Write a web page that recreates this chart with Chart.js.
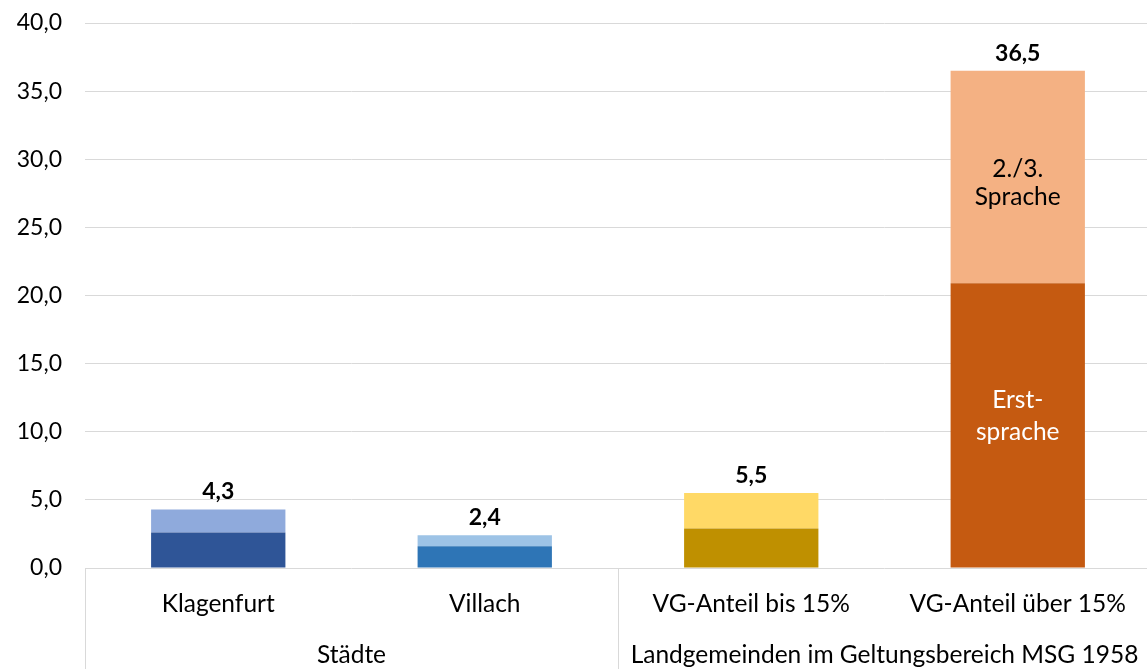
<!DOCTYPE html>
<html>
<head>
<meta charset="utf-8">
<script src="https://cdn.jsdelivr.net/npm/chart.js@4/dist/chart.umd.min.js"></script>
<style>
  html, body { margin: 0; padding: 0; background: #fff; overflow: hidden; }
  #wrap { width: 1147px; height: 669px; overflow: hidden; position: relative; }
  canvas { display: block; }
</style>
</head>
<body>
<div id="wrap"><canvas id="c" width="1151" height="669"></canvas></div>
<script>
const categories = ["Klagenfurt", "Villach", "VG-Anteil bis 15%", "VG-Anteil über 15%"];
const groups = [
  { label: "Städte", from: 0, to: 1 },
  { label: "Landgemeinden im Geltungsbereich MSG 1958", from: 2, to: 3 }
];
const erstsprache = [2.6, 1.6, 2.9, 20.9];
const zweitDrittSprache = [1.7, 0.8, 2.6, 15.6];
const totals = [4.3, 2.4, 5.5, 36.5];
const yTicks = { min: 0, max: 40, step: 5 };

const darkColors = ["#2F5597", "#2E75B6", "#BF9000", "#C55A11"];
const lightColors = ["#8FAADC", "#9DC3E6", "#FFD966", "#F4B183"];
const FONT = "Lato, 'Open Sans', sans-serif";
const TXT = 24.5;
const GRID = "#D9D9D9";
const fmt = v => v.toFixed(1).replace(".", ",");

const labelPlugin = {
  id: "labels",
  afterDatasetsDraw(chart) {
    const ctx = chart.ctx;
    const bottomMeta = chart.getDatasetMeta(0);
    const topMeta = chart.getDatasetMeta(1);
    ctx.save();
    ctx.textAlign = "center";
    ctx.textBaseline = "alphabetic";
    ctx.fillStyle = "#000";
    ctx.font = "bold 23px " + FONT;
    topMeta.data.forEach((el, i) => {
      ctx.fillText(fmt(totals[i]), el.x, el.y - 10);
    });
    // inside labels for last bar
    const i = 3;
    const tEl = topMeta.data[i];
    const bEl = bottomMeta.data[i];
    ctx.font = TXT + "px " + FONT;
    ctx.textBaseline = "middle";
    let cy = (tEl.y + tEl.base) / 2 + 6;
    ctx.fillStyle = "#000";
    ctx.fillText("2./3.", tEl.x, cy - 14);
    ctx.fillText("Sprache", tEl.x, cy + 14);
    cy = (bEl.y + bEl.base) / 2 - 9;
    ctx.fillStyle = "#fff";
    ctx.fillText("Erst-", bEl.x, cy - 16);
    ctx.fillText("sprache", bEl.x, cy + 16);
    ctx.restore();
  },
  afterDraw(chart) {
    const ctx = chart.ctx;
    const xs = chart.scales.x;
    const area = chart.chartArea;
    const step = xs.getPixelForValue(1) - xs.getPixelForValue(0);
    ctx.save();
    ctx.strokeStyle = GRID;
    ctx.lineWidth = 1;
    const seps = new Set();
    groups.forEach(g => {
      seps.add(Math.round(xs.getPixelForValue(g.from) - step / 2));
      seps.add(Math.round(xs.getPixelForValue(g.to) + step / 2));
    });
    seps.forEach(x => {
      ctx.beginPath();
      ctx.moveTo(x + 0.5, area.bottom);
      ctx.lineTo(x + 0.5, chart.height);
      ctx.stroke();
    });
    ctx.fillStyle = "#000";
    ctx.font = TXT + "px " + FONT;
    ctx.textAlign = "center";
    ctx.textBaseline = "middle";
    groups.forEach(g => {
      const cx = (xs.getPixelForValue(g.from) + xs.getPixelForValue(g.to)) / 2;
      ctx.fillText(g.label, cx, 655);
    });
    ctx.restore();
  }
};

new Chart(document.getElementById("c"), {
  type: "bar",
  data: {
    labels: categories,
    datasets: [
      { label: "Erstsprache", data: erstsprache, backgroundColor: darkColors, borderWidth: 0 },
      { label: "2./3. Sprache", data: zweitDrittSprache, backgroundColor: lightColors, borderWidth: 0 }
    ]
  },
  options: {
    responsive: false,
    animation: false,
    devicePixelRatio: 1,
    layout: { padding: { top: 23, right: 0, bottom: 0, left: 0 } },
    categoryPercentage: 1,
    barPercentage: 0.504,
    plugins: { legend: { display: false }, tooltip: { enabled: false } },
    scales: {
      x: {
        stacked: true,
        grid: { display: false, drawTicks: false },
        border: { display: false },
        ticks: { color: "#000", font: { family: FONT, size: TXT }, padding: 21, maxRotation: 0, autoSkip: false },
        afterFit: s => { s.height = 101; s.paddingLeft = 0; s.paddingRight = 0; }
      },
      y: {
        stacked: true,
        min: yTicks.min,
        max: yTicks.max,
        grid: { color: GRID, lineWidth: 1, drawTicks: false },
        border: { display: false },
        ticks: {
          stepSize: yTicks.step,
          color: "#000",
          font: { family: FONT, size: 23 },
          padding: 23,
          callback: v => fmt(v)
        },
        afterFit: s => { s.width = 85; s.paddingTop = 0; s.paddingBottom = 0; }
      }
    }
  },
  plugins: [labelPlugin]
});
</script>
</body>
</html>
